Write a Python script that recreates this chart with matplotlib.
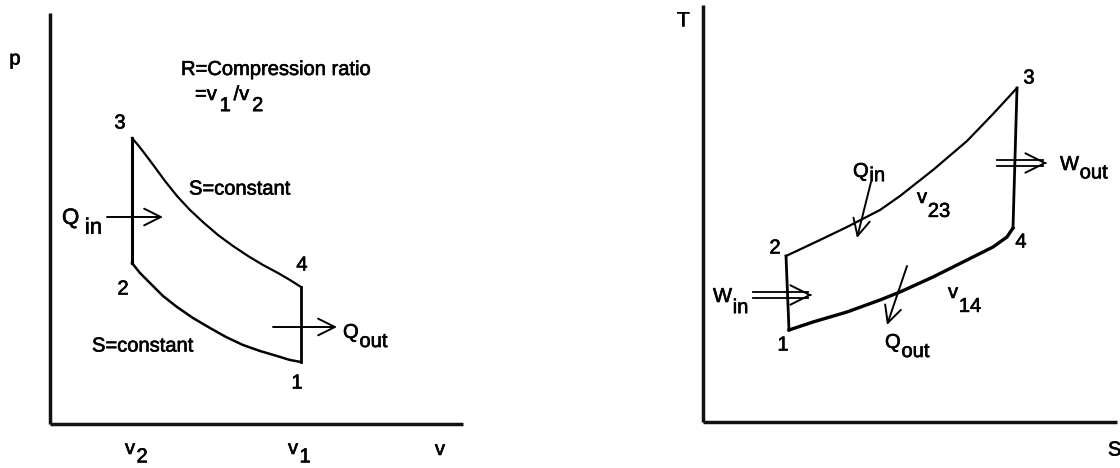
import matplotlib.pyplot as plt
import matplotlib.patheffects as pe

plt.rcParams['font.family'] = ['Liberation Sans', 'DejaVu Sans']

# ---- p-v diagram (units counted from the axes origin) ----
pv_state = ['1', '2', '3', '4']
pv_x = [251, 82, 82, 251]
pv_y = [62, 161, 286, 137]
# isentropic expansion 3 -> 4
pv_exp_x = [82, 88, 95, 104, 115, 127, 140, 154, 168, 183, 198, 213, 228, 240, 251]
pv_exp_y = [286, 279, 270, 258, 243, 228, 214, 201, 189, 178, 168, 159, 151, 144, 137]
# isentropic compression 1 -> 2
pv_comp_x = [82, 90, 100, 113, 127, 143, 160, 176, 193, 210, 227, 240, 251]
pv_comp_y = [161, 151, 141, 128, 117, 106, 96, 87, 79, 73, 68, 64, 62]
pv_label_x = [247, 73, 70, 252]
pv_label_y = [41, 135, 301, 159]

# ---- T-s diagram ----
ts_state = ['1', '2', '3', '4']
ts_x = [86, 83, 314, 310]
ts_y = [92, 166, 334, 194]
# constant volume heat addition 2 -> 3
ts_v23_x = [83, 117, 144, 177, 197, 230, 264, 290, 314]
ts_v23_y = [166, 182, 195, 212, 226, 252, 281, 308, 334]
# constant volume heat rejection 1 -> 4
ts_v14_x = [86, 110, 144, 177, 197, 230, 264, 290, 304, 310]
ts_v14_y = [92, 100, 110, 122, 130, 145, 162, 175, 185, 194]
ts_label_x = [80, 72, 326, 318]
ts_label_y = [77, 174, 344, 180]

FS = 14.5
# slightly heavier strokes, like the scanned lettering
TXT = dict(path_effects=[pe.withStroke(linewidth=0.45, foreground='k')], color='k')


def sub_label(ax, x, y, parts, size=FS, drop=6, gap=0.5):
    # parts alternate: even index on the baseline, odd index lowered
    first = ax.text(x, y, parts[0], fontsize=size, va='baseline', ha='left', **TXT)
    prev = first
    for i, txt in enumerate(parts[1:], start=1):
        dy = -drop if i % 2 else 0
        prev = ax.annotate(txt, xy=(1, y), xycoords=(prev, 'data'), xytext=(gap, dy),
                           textcoords='offset points', fontsize=size,
                           va='baseline', ha='left', annotation_clip=False, **TXT)
    return first


def arrow(ax, x0, y0, x1, y1):
    ax.annotate('', xy=(x1, y1), xytext=(x0, y0), annotation_clip=False,
                arrowprops=dict(arrowstyle='->,head_length=0.6,head_width=0.3',
                                lw=1.4, color='k', shrinkA=0, shrinkB=0,
                                mutation_scale=20))


def double_arrow(ax, x0, x1, y, off=3):
    ax.plot([x0, x1 - 4], [y + off, y + off], color='k', lw=1.3, clip_on=False)
    ax.plot([x0, x1 - 4], [y - off, y - off], color='k', lw=1.3, clip_on=False)
    ax.annotate('', xy=(x1, y), xytext=(x1 - 2, y), annotation_clip=False,
                arrowprops=dict(arrowstyle='->,head_length=0.7,head_width=0.35',
                                lw=1.4, color='k', shrinkA=0, shrinkB=0,
                                mutation_scale=20))


def setup(ax, w, h):
    ax.set_xlim(0, w)
    ax.set_ylim(0, h)
    for s in ['top', 'right']:
        ax.spines[s].set_visible(False)
    for s in ['left', 'bottom']:
        ax.spines[s].set_linewidth(2.5)
        ax.spines[s].set_color('#111111')
        ax.spines[s].set_capstyle('butt')
    ax.set_xticks([])
    ax.set_yticks([])
    ax.patch.set_alpha(0)


fig = plt.figure(figsize=(11.2, 4.68), dpi=100)

# left: p-v
ax1 = fig.add_axes([50 / 1120, 44 / 468, 413 / 1120, 411 / 468])
setup(ax1, 413, 411)
lw = 1.6
ax1.plot(pv_exp_x, pv_exp_y, color='k', lw=lw)
ax1.plot(pv_comp_x, pv_comp_y, color='k', lw=1.8)
ax1.plot([pv_x[1], pv_x[2]], [pv_y[1], pv_y[2]], color='k', lw=2.2)
ax1.plot([pv_x[3], pv_x[0]], [pv_y[3], pv_y[0]], color='k', lw=2.0)
for s, lx, ly in zip(pv_state, pv_label_x, pv_label_y):
    ax1.text(lx, ly, s, fontsize=FS, ha='center', va='center', **TXT)

ax1.text(-35, 365, 'p', fontsize=FS, ha='center', va='center', **TXT)
ax1.text(131, 349, 'R=Compression ratio', fontsize=FS, va='baseline', **TXT)
sub_label(ax1, 145, 324, ['=v', '1', '/v', '2'], drop=8, gap=2)
ax1.text(139, 235, 'S=constant', fontsize=FS, va='center', **TXT)
ax1.text(42, 78, 'S=constant', fontsize=FS, va='center', **TXT)
sub_label(ax1, 12, 200, ['Q', 'in'], size=16, drop=7, gap=4)
arrow(ax1, 57, 207, 113, 207)
arrow(ax1, 223, 97, 287, 97)
sub_label(ax1, 293, 86, ['Q', 'out'], drop=6.5, gap=0.5)
sub_label(ax1, 75, -30, ['v', '2'], drop=6, gap=1)
sub_label(ax1, 238, -30, ['v', '1'], drop=6, gap=1)
ax1.text(390, -31, 'v', fontsize=FS, ha='center', va='baseline', **TXT)

# right: T-s
ax2 = fig.add_axes([703 / 1120, 46 / 468, 414 / 1120, 417 / 468])
setup(ax2, 414, 417)
ax2.plot(ts_v23_x, ts_v23_y, color='k', lw=lw)
ax2.plot(ts_v14_x, ts_v14_y, color='k', lw=2.4)
ax2.plot([ts_x[0], ts_x[1]], [ts_y[0], ts_y[1]], color='k', lw=2.0)
ax2.plot([ts_x[2], ts_x[3]], [ts_y[2], ts_y[3]], color='k', lw=2.0)
for s, lx, ly in zip(ts_state, ts_label_x, ts_label_y):
    ax2.text(lx, ly, s, fontsize=FS, ha='center', va='center', **TXT)

ax2.text(-20, 402, 'T', fontsize=FS, ha='center', va='center', **TXT)
ax2.text(405, -28, 'S', fontsize=FS, ha='left', va='center', **TXT)
sub_label(ax2, 150, 245, ['Q', 'in'], drop=3, gap=0.5)
arrow(ax2, 168, 240, 154, 184)
sub_label(ax2, 214, 219, ['v', '23'], drop=10, gap=0.5)
sub_label(ax2, 245, 124, ['v', '14'], drop=10, gap=0.5)
arrow(ax2, 204, 156, 184, 97)
sub_label(ax2, 182, 74, ['Q', 'out'], drop=6.5, gap=0.5)
double_arrow(ax2, 50, 109, 127)
sub_label(ax2, 10, 120, ['W', 'in'], drop=8, gap=0.5)
double_arrow(ax2, 294, 344, 259)
sub_label(ax2, 357, 252, ['W', 'out'], drop=6, gap=0.5)

fig.savefig('out.png', dpi=100)
